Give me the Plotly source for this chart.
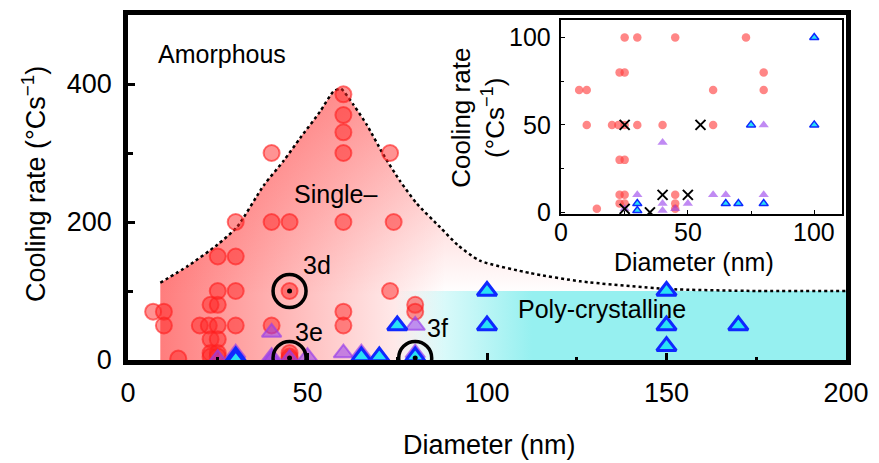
import plotly.graph_objects as go

# ---------------- data ----------------
red_x = [7, 10, 10, 14, 20, 22.5, 25, 30, 23, 25, 25, 30, 23, 25, 23, 25, 23, 25, 40, 45, 45, 45, 45,
         60, 60, 73, 80, 80, 25, 30, 30, 40, 45, 60, 74, 40, 60, 73, 60, 60, 60]
red_y = [70, 70, 50, 2, 50, 50, 50, 50, 80, 80, 100, 100, 30, 30, 10, 10, 5, 5, 50, 100, 10, 5, 2,
         70, 50, 100, 80, 70, 150, 150, 200, 200, 200, 200, 200, 300, 300, 300, 330, 355, 385]

purple_x = [25, 30, 40, 40, 40, 45, 50, 60, 65, 80, 80]
purple_y = [2, 10, 40, 5, 1, 2, 5, 10, 10, 10, 50]

blue_x = [30, 30, 65, 70, 80, 75, 100, 100, 150, 150, 150, 170]
blue_y = [5, 1, 5, 5, 5, 50, 100, 50, 100, 50, 20, 50]

cross_x = [25, 55, 40, 50, 25, 35]
cross_y = [50, 50, 10, 10, 2, 0]

ring_labels = ["3d", "3e", "3f"]
ring_x = [45, 45, 80]
ring_y = [100, 3, 3]

# dotted boundary between amorphous and crystalline regions
bound_x = [9, 16.6, 24.9, 30.4, 37.8, 43.4, 48, 53.5, 57.2, 59.3, 62.8, 66.5, 71.1, 75.7, 80.4,
           87, 92, 98, 112, 126, 150, 175, 200]
bound_y = [112, 136, 167, 193, 253, 289, 322, 360, 389, 393, 370, 341, 298, 260, 227,
           192, 166, 144, 126, 114, 103, 100, 100]

x_ticks = [0, 50, 100, 150, 200]
y_ticks = [0, 200, 400]
inset_ticks = [0, 50, 100]

FONT = "Liberation Sans, Arial, Helvetica, sans-serif"
RED = "rgba(255,40,40,0.5)"
RED_EDGE = "rgba(255,30,30,0.6)"
PURPLE = "rgba(150,60,235,0.55)"
PURPLE_EDGE = "rgba(150,60,235,0.65)"
CYAN = "rgb(40,225,245)"
BLUE = "rgb(15,40,255)"

fig = go.Figure()

# ---- red single-crystalline region (two gradient layers) ----
fig.add_trace(go.Scatter(
    x=bound_x, y=bound_y, mode="lines", fill="tozeroy", line=dict(width=0, shape="spline", smoothing=0.6),
    fillgradient=dict(type="horizontal", start=9, stop=88,
                      colorscale=[[0, "rgba(255,55,55,0.65)"], [1, "rgba(255,60,60,0)"]]),
    hoverinfo="skip", showlegend=False))
fig.add_trace(go.Scatter(
    x=bound_x, y=bound_y, mode="lines", fill="tozeroy", line=dict(width=0, shape="spline", smoothing=0.6),
    fillgradient=dict(type="vertical", start=100, stop=390,
                      colorscale=[[0, "rgba(255,60,60,0)"], [1, "rgba(255,60,60,0.45)"]]),
    hoverinfo="skip", showlegend=False))
# ---- cyan poly-crystalline region ----
fig.add_trace(go.Scatter(
    x=[72, 200, 200, 72, 72], y=[0, 0, 100, 100, 0], mode="lines", fill="toself",
    line=dict(width=0),
    fillgradient=dict(type="horizontal", start=74, stop=112,
                      colorscale=[[0, "rgba(150,240,240,0)"], [1, "rgb(150,240,240)"]]),
    hoverinfo="skip", showlegend=False))

# dotted boundary
fig.add_trace(go.Scatter(x=bound_x, y=bound_y, mode="lines",
                         line=dict(color="black", width=2.5, dash="dot", shape="spline", smoothing=0.6),
                         hoverinfo="skip", showlegend=False))

# main markers
fig.add_trace(go.Scatter(x=red_x, y=red_y, mode="markers",
                         marker=dict(symbol="circle", size=16, color=RED,
                                     line=dict(color=RED_EDGE, width=2)),
                         showlegend=False))
fig.add_trace(go.Scatter(x=purple_x, y=purple_y, mode="markers",
                         marker=dict(symbol="triangle-up", size=17, color=PURPLE,
                                     line=dict(color=PURPLE_EDGE, width=2)),
                         showlegend=False))
fig.add_trace(go.Scatter(x=blue_x, y=blue_y, mode="markers",
                         marker=dict(symbol="triangle-up", size=17, color=CYAN,
                                     line=dict(color=BLUE, width=3)),
                         showlegend=False))
# rings
fig.add_trace(go.Scatter(x=ring_x, y=ring_y, mode="markers",
                         marker=dict(symbol="circle-open", size=33, color="black",
                                     line=dict(color="black", width=3.5)),
                         showlegend=False))
fig.add_trace(go.Scatter(x=ring_x, y=ring_y, mode="markers",
                         marker=dict(symbol="circle", size=5, color="black"),
                         showlegend=False))

# ---- inset ----
fig.add_trace(go.Scatter(x=red_x, y=red_y, mode="markers", xaxis="x2", yaxis="y2",
                         marker=dict(symbol="circle", size=8.5, color="rgba(255,60,60,0.62)",
                                     line=dict(width=0)),
                         showlegend=False))
fig.add_trace(go.Scatter(x=purple_x, y=purple_y, mode="markers", xaxis="x2", yaxis="y2",
                         marker=dict(symbol="triangle-up", size=9, color="rgba(150,60,235,0.6)",
                                     line=dict(width=0)),
                         showlegend=False))
fig.add_trace(go.Scatter(x=blue_x, y=blue_y, mode="markers", xaxis="x2", yaxis="y2",
                         marker=dict(symbol="triangle-up", size=8, color=CYAN,
                                     line=dict(color=BLUE, width=1.5)),
                         showlegend=False))
fig.add_trace(go.Scatter(x=cross_x, y=cross_y, mode="markers", xaxis="x2", yaxis="y2",
                         marker=dict(symbol="x-thin", size=10,
                                     line=dict(color="black", width=2)),
                         showlegend=False))

ann = []
def txt(x, y, s, size=25, xref="x", yref="y", angle=0, xanchor="center", yanchor="middle",
        xshift=0, yshift=0):
    ann.append(dict(x=x, y=y, xref=xref, yref=yref, text=s, showarrow=False,
                    textangle=angle, font=dict(family=FONT, size=size, color="black"),
                    xanchor=xanchor, yanchor=yanchor, xshift=xshift, yshift=yshift))

txt(26.1, 443, "Amorphous")
txt(57.7, 240, "Single–")
txt(52.6, 138, ring_labels[0])
txt(50.5, 41, ring_labels[1])
txt(86.1, 46, ring_labels[2])
txt(132, 74, "Poly-crystalline")
txt(-0.1318, 0.511, "Cooling rate (°Cs<sup>−1</sup>)", size=27, xref="paper", yref="paper", angle=-90)
txt(0.504, -0.245, "Diameter (nm)", size=27, xref="paper", yref="paper")
txt(0.488, 0.703, "Cooling rate<br>(°Cs<sup>−1</sup>)", size=26, xref="paper", yref="paper", angle=-90)
txt(0.788, 0.284, "Diameter (nm)", size=25, xref="paper", yref="paper")

# inset tick labels placed through the inset axes
for v in inset_ticks:
    txt(v, 0, str(v), size=25, xref="x2", yref="y2 domain", yanchor="middle", yshift=-18)
    txt(0, v, str(v), size=25, xref="x2 domain", yref="y2", xanchor="right", xshift=-8)

axis_common = dict(showgrid=False, zeroline=False, showline=True, mirror=True,
                   linecolor="black", ticks="inside", tickcolor="black")

fig.update_layout(
    width=879, height=463,
    margin=dict(l=128, r=30, t=10, b=103),
    paper_bgcolor="white", plot_bgcolor="white",
    font=dict(family=FONT, color="black"),
    annotations=ann,
    xaxis=dict(range=[0, 200], tickvals=x_ticks, linewidth=4.5, ticklen=7, tickwidth=3,
               tickfont=dict(size=27), ticklabelstandoff=5,
               minor=dict(tickvals=[25, 75, 125, 175], ticks="inside", ticklen=3, tickwidth=3,
                          tickcolor="black"),
               **axis_common),
    yaxis=dict(range=[0, 500], tickvals=y_ticks, linewidth=4.5, ticklen=7, tickwidth=3,
               tickfont=dict(size=27), ticklabelstandoff=6,
               minor=dict(tickvals=[100, 300], ticks="inside", ticklen=5, tickwidth=3,
                          tickcolor="black"),
               **axis_common),
    xaxis2=dict(domain=[0.6037, 0.9938], anchor="y2", range=[0, 110.8], tickvals=inset_ticks,
                linewidth=1.5, ticklen=4, tickwidth=1.2, showticklabels=False,
                minor=dict(tickvals=[25, 75], ticks="inside", ticklen=3, tickcolor="black"),
                **axis_common),
    yaxis2=dict(domain=[0.4229, 0.9857], anchor="x2", range=[-1, 110], tickvals=inset_ticks,
                linewidth=1.5, ticklen=4, tickwidth=1.2, showticklabels=False,
                minor=dict(tickvals=[25, 75], ticks="inside", ticklen=3, tickcolor="black"),
                **axis_common),
)

fig.write_html("out.html")
